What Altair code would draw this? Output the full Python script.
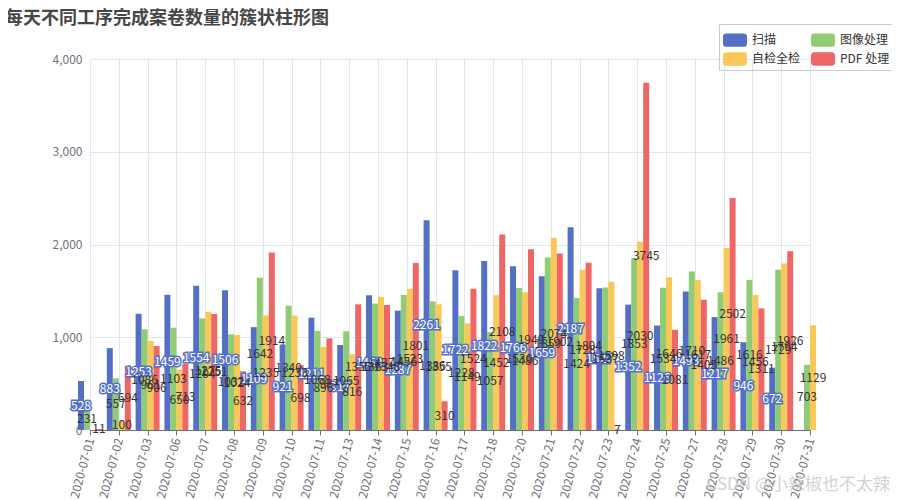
import altair as alt
import pandas as pd

dates = [
    "2020-07-01", "2020-07-02", "2020-07-03", "2020-07-06", "2020-07-07",
    "2020-07-08", "2020-07-09", "2020-07-10", "2020-07-11", "2020-07-13",
    "2020-07-14", "2020-07-15", "2020-07-16", "2020-07-17", "2020-07-18",
    "2020-07-20", "2020-07-21", "2020-07-22", "2020-07-23", "2020-07-24",
    "2020-07-25", "2020-07-27", "2020-07-28", "2020-07-29", "2020-07-30",
    "2020-07-31",
]
series_names = ["扫描", "图像处理", "自检全检", "PDF 处理"]
colors = ["#5470c6", "#91cc75", "#fac858", "#ee6666"]

# 每个工序每天的完成数量 (None = 当天没有数据)
scan = [528, 883, 1253, 1459, 1554, 1506, 1109, 921, 1211, 917, 1453, 1287, 2261,
        1722, 1822, 1766, 1659, 2187, 1527, 1352, 1126, 1493, 1217, 946, 672, None]
image_proc = [231, 557, 1086, 1103, 1204, 1032, 1642, 1340, 1068, 1065, 1363, 1456, 1386,
              1228, 1057, 1530, 1859, 1424, 1537, 1853, 1534, 1710, 1486, 1616, 1729, 703]
self_check = [None, 100, 961, 650, 1275, 1024, 1235, 1233, 896, 816, 1437, 1523, 1355,
              1149, 1452, 1486, 2074, 1728, 1598, 2030, 1646, 1617, 1961, 1456, 1794, 1129]
pdf = [11, 694, 906, 713, 1251, 632, 1914, 698, 987, 1355, 1348, 1801, 310,
       1524, 2108, 1949, 1902, 1804, 7, 3745, 1081, 1405, 2502, 1311, 1926, None]

rows = []
for name, values in zip(series_names, [scan, image_proc, self_check, pdf]):
    for d, v in zip(dates, values):
        if v is not None:
            rows.append({"date": d, "series": name, "count": v})
df = pd.DataFrame(rows)

FONT = "Noto Sans CJK SC"

# 圆角矩形图例符号
legend_shape = ("M-0.72,-0.56 L0.72,-0.56 Q1,-0.56 1,-0.28 L1,0.28 Q1,0.56 0.72,0.56 "
                "L-0.72,0.56 Q-1,0.56 -1,0.28 L-1,-0.28 Q-1,-0.56 -0.72,-0.56 Z")

x_enc = alt.X(
    "date:N", sort=dates,
    scale=alt.Scale(type="point", padding=0),
    axis=alt.Axis(title=None, labelAngle=-75, labelFontSize=12, labelColor="#6e7079",
                  labelFont=FONT, domainColor="#6e7079", tickColor="#6e7079", tickSize=5,
                  grid=True, gridColor="#e0e6f1", labelPadding=3),
)
off_enc = alt.XOffset(
    "series:N", sort=series_names,
    scale=alt.Scale(type="point", domain=series_names, range=[-9, 9], padding=0),
)
y_scale = alt.Scale(domain=[0, 4000], nice=False)

base = alt.Chart(df)

bars = base.mark_bar(size=6).encode(
    x=x_enc,
    xOffset=off_enc,
    y=alt.Y("count:Q", scale=y_scale, title=None,
            axis=alt.Axis(values=[0, 1000, 2000, 3000, 4000], format=",.0f", ticks=False,
                          domain=False, labelFontSize=12, labelColor="#6e7079",
                          labelFont=FONT, labelPadding=8, gridColor="#e0e6f1")),
    color=alt.Color(
        "series:N",
        scale=alt.Scale(domain=series_names, range=colors),
        legend=alt.Legend(title=None, orient="none", legendX=629, legendY=-35, columns=2,
                          direction="horizontal",
                          symbolType=legend_shape, symbolSize=576, symbolStrokeWidth=0,
                          labelFontSize=12, labelColor="#333", labelFont=FONT,
                          labelOffset=5, columnPadding=10, rowPadding=0, padding=4,
                          strokeColor="#cccccc"),
    ),
)

labels = base.transform_calculate(half="datum.count / 2")
label_y = alt.Y("half:Q", scale=y_scale, title=None,
                axis=alt.Axis(values=[0, 1000, 2000, 3000, 4000], format=",.0f"))

scan_halo = labels.transform_filter(alt.datum.series == "扫描").mark_text(
    fontSize=12, font=FONT, stroke="#5470c6", strokeWidth=3, fill="#5470c6", baseline="middle"
).encode(x=x_enc, xOffset=off_enc, y=label_y, text="count:Q")
scan_text = labels.transform_filter(alt.datum.series == "扫描").mark_text(
    fontSize=12, font=FONT, fill="#ffffff", baseline="middle"
).encode(x=x_enc, xOffset=off_enc, y=label_y, text="count:Q")
other_text = labels.transform_filter(alt.datum.series != "扫描").mark_text(
    fontSize=12, font=FONT, fill="#333333", baseline="middle"
).encode(x=x_enc, xOffset=off_enc, y=label_y, text="count:Q")

watermark = alt.Chart(pd.DataFrame({"t": ["CSDN @小辣椒也不太辣"]})).mark_text(
    fontSize=17, font=FONT, fill="#c8c8c8", align="right", baseline="middle", opacity=0.8
).encode(x=alt.value(800), y=alt.value(426), text="t:N")

chart = alt.layer(bars, scan_halo, scan_text, other_text, watermark).properties(
    width=720,
    height=371,
    autosize=alt.AutoSizeParams(type="none"),
    padding={"left": 82, "top": 51, "right": 82, "bottom": 70},
    title=alt.TitleParams("每天不同工序完成案卷数量的簇状柱形图", anchor="start", fontSize=18,
                          fontWeight="bold", color="#464646", font=FONT, dx=-47, dy=5,
                          offset=1),
).configure_view(stroke=None)

chart.save("out.html", embed_options={"renderer": "svg", "actions": False})
